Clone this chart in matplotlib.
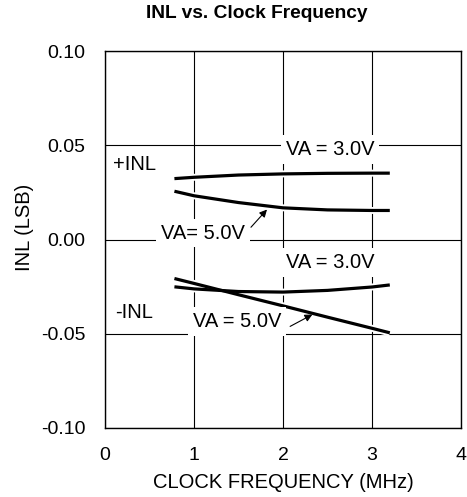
import matplotlib
matplotlib.use("Agg")
import matplotlib.pyplot as plt

plt.rcParams['font.family'] = ['Liberation Sans', 'DejaVu Sans']

# Data
freq = [0.78, 1.0, 1.5, 2.0, 2.5, 3.0, 3.2]
pos_inl_3v = [0.0323, 0.0330, 0.0342, 0.0348, 0.0351, 0.0352, 0.0352]
pos_inl_5v = [0.0256, 0.0232, 0.0196, 0.0168, 0.0157, 0.0154, 0.0154]
neg_inl_3v = [-0.0251, -0.0262, -0.0276, -0.0279, -0.0270, -0.0252, -0.0241]
neg_inl_5v = [-0.0207, -0.0233, -0.0293, -0.0352, -0.0412, -0.0471, -0.0495]
x_ticks = [0, 1, 2, 3, 4]
y_ticks = [-0.10, -0.05, 0.00, 0.05, 0.10]
y_tick_labels = ['-0.10', '-0.05', '0.00', '0.05', '0.10']

fig = plt.figure(figsize=(4.67, 4.97), dpi=100)
ax = fig.add_axes([105/467, 1-428/497, 356/467, 377/497])

ax.set_xlim(0, 4)
ax.set_ylim(-0.10, 0.10)
ax.set_xticks(x_ticks)
ax.set_yticks(y_ticks)
ax.set_yticklabels(y_tick_labels)
ax.tick_params(length=0, labelsize=14)
ax.tick_params(axis='x', pad=14)
ax.tick_params(axis='y', pad=14)
for s in ax.spines.values():
    s.set_linewidth(1.0)
ax.grid(True, color='black', linewidth=0.8, zorder=1)
ax.set_axisbelow(True)

series = [pos_inl_3v, pos_inl_5v, neg_inl_3v, neg_inl_5v]
for ys in series:
    ax.plot(freq, ys, color='white', linewidth=5.0, solid_capstyle='butt', zorder=2)
for ys in series:
    ax.plot(freq, ys, color='black', linewidth=2.3, solid_capstyle='butt', zorder=3)

box = dict(facecolor='white', edgecolor='none', pad=3.5)
fs = 14.5
ax.text(0.09, 0.0398, '+INL', fontsize=fs, va='center', ha='left', zorder=4)
ax.text(0.11, -0.0387, '-INL', fontsize=fs, va='center', ha='left', zorder=4)
ax.text(2.53, 0.0477, 'VA = 3.0V', fontsize=fs, va='center', ha='center', bbox=box, zorder=4)
ax.text(1.10, 0.0005, 'VA= 5.0V', fontsize=fs, va='baseline', ha='center', bbox=box, zorder=4)
ax.text(2.53, -0.0122, 'VA = 3.0V', fontsize=fs, va='center', ha='center', bbox=box, zorder=4)
ax.text(1.48, -0.0463, 'VA = 5.0V', fontsize=fs, va='baseline', ha='center', bbox=box, zorder=4)

arrow = dict(arrowstyle='-|>', color='black', lw=0.8, mutation_scale=11, shrinkA=0, shrinkB=0)
ax.annotate('', xy=(1.82, 0.0159), xytext=(1.64, 0.0065), arrowprops=arrow, zorder=5)
ax.annotate('', xy=(2.33, -0.0398), xytext=(2.08, -0.0461), arrowprops=arrow, zorder=5)

fig.text(257/467, 1-14/497, 'INL vs. Clock Frequency', fontsize=13.8, fontweight='bold',
         ha='center', va='center')
fig.text(283/467, 1-482/497, 'CLOCK FREQUENCY (MHz)', fontsize=fs, ha='center', va='center')
fig.text(24/467, 1-227/497, 'INL (LSB)', fontsize=fs, ha='center', va='center', rotation=90)

fig.savefig('out.png', dpi=100)
